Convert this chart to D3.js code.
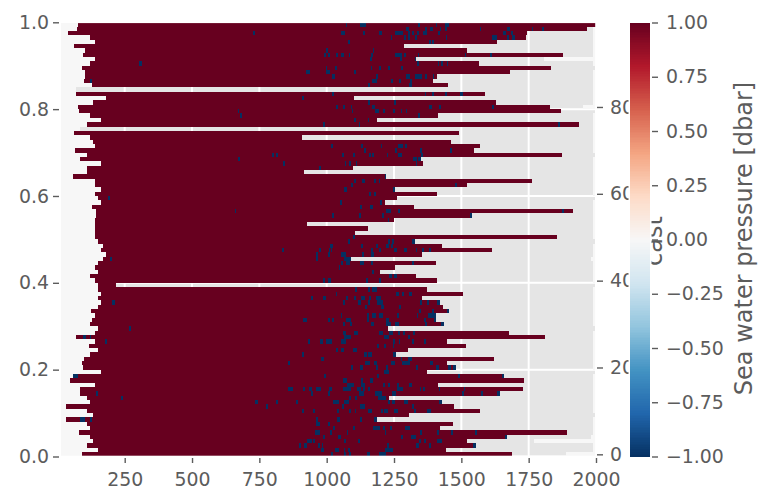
<!DOCTYPE html>
<html><head><meta charset="utf-8">
<script src="https://cdn.jsdelivr.net/npm/d3@7"></script>
<style>html,body{margin:0;padding:0;background:#fff}svg{display:block}text{font-family:"DejaVu Sans",sans-serif}</style>
</head><body><svg id="c" width="772" height="504"></svg>
<script>
// casts listed from the top row (99) down to the bottom row (0)
const casts = d3.range(99, -1, -1);
const dataStart = [77,73,40,121,140,62,103,95,140,121,92,103,103,99,129,69,69,181,132,77,80,121,162,110,84,62,121,132,140,65,110,84,162,110,110,58,140,140,162,140,151,162,129,143,143,140,140,140,140,140,151,170,162,181,170,151,140,151,121,140,151,151,162,151,162,151,125,140,129,121,151,140,69,140,117,151,121,99,92,95,162,58,47,140,84,84,110,121,32,110,132,32,110,121,80,121,132,110,151,92];
const dataEnd = [2000,1967,1744,1740,1633,1287,1521,1878,1332,1566,1833,1681,1410,1395,1451,69,1588,1101,1629,1829,1870,1413,1187,1937,84,1491,908,1462,1569,1547,1874,1350,1358,1098,916,1220,1762,1521,1254,1410,1261,1217,1324,1915,1540,1250,927,1154,1105,1855,1328,1428,1614,1354,1090,1406,1254,1198,1332,1410,218,1373,1506,1354,1421,1432,1454,1406,1402,1436,1228,1677,1811,1447,1517,1302,1257,1621,1447,1480,1373,1658,1733,1413,1729,1644,1231,1428,1473,1569,1306,1187,1469,1421,1892,1670,1521,1555,1443,1688];
const noTrailCasts = [99,89,79,69,59,49,39,29,19,9];
const trailCasts = [91,80,45,4,3,0];
const trailStarts = [1807,1952,1981,1981,1770,1889];
const trailDefault = 1989;
// cells with value -1: [cast, from dbar, to dbar]
const blueCells = [
[97,728,734],[90,304,313],[93,997,1005],[92,990,997],[92,1005,1012],[89,997,1002],[88,923,938],[88,997,1012],[86,121,129],[82,908,916],[79,671,675],[78,678,684],[76,988,995],[69,797,805],[69,812,820],[68,671,678],[67,839,847],[66,973,979],
[99,1072,1076],[99,1124,1146],[99,1339,1345],[99,1406,1410],[99,1439,1454],
[98,1295,1306],[98,1365,1373],[98,1384,1395],[98,1421,1425],[98,1439,1447],[98,1569,1573],[98,1670,1681],[98,1762,1766],[98,1800,1807],
[97,1053,1068],[97,1135,1142],[97,1194,1205],[97,1254,1283],[97,1302,1309],[97,1317,1324],[97,1335,1343],[97,1358,1373],[97,1413,1421],[97,1655,1666],[97,1684,1692],
[96,1239,1243],[96,1287,1295],[96,1302,1309],[96,1328,1335],[96,1443,1447],[96,1614,1633],[96,1670,1677],[96,1688,1699],
[95,1079,1087],[95,1380,1387],[95,1391,1398],[93,1172,1176],
[92,1035,1042],[92,1053,1064],[92,1083,1087],[92,1165,1172],[92,1254,1280],[92,1287,1295],[92,1339,1344],[92,1514,1517],[92,1606,1614],
[91,1161,1168],[91,1272,1280],[91,1328,1332],
[90,1335,1343],[90,1413,1417],[90,1424,1432],[90,1447,1451],
[89,1031,1038],[89,1165,1168],[89,1194,1202],[89,1228,1235],[89,1276,1283],[88,1101,1109],
[87,1020,1031],[87,1183,1191],[87,1295,1309],[87,1328,1354],[87,1365,1373],[87,1395,1398],
[86,1168,1187],[86,1239,1246],[86,1268,1276],[86,1309,1317],[85,1153,1161],[85,1306,1317],
[83,1020,1027],[83,1365,1369],[83,1391,1398],[83,1439,1447],[83,1495,1506],[81,1153,1161],[81,1250,1257],
[80,1035,1042],[80,1061,1068],[80,1090,1094],[80,1168,1179],[80,1380,1391],[80,1417,1424],[80,1614,1621],
[79,1094,1098],[79,1179,1194],[79,1209,1217],[79,1246,1254],[79,1276,1280],[79,1295,1298],[78,1339,1347],[77,1101,1109],[77,1153,1158],[76,1120,1124],[76,1859,1866],
[71,1016,1024],[71,1127,1135],[71,1202,1205],[71,1265,1283],[71,1291,1298],
[70,1139,1146],[70,1254,1261],[70,1347,1354],[70,1458,1465],
[69,1057,1064],[69,1098,1105],[69,1157,1165],[69,1168,1176],[69,1224,1228],[69,1265,1280],[69,1350,1358],
[68,1321,1335],[68,1339,1350],[67,1068,1072],[67,1083,1090],[67,1109,1113],[67,1332,1335],
[59,188,195],[56,659,663],[47,834,841],[47,971,979],[47,1009,1012],[46,960,968],[46,1005,1012],[45,195,203],[45,960,968],[40,988,995],[40,1005,1012],[35,203,214],[36,943,950],[36,988,997],[31,912,927],[31,1005,1012],
[64,1216,1220],[63,1101,1109],[63,1131,1142],[63,1176,1183],[63,1194,1198],[62,1090,1098],[62,1476,1484],[61,1064,1075],[61,1246,1254],[60,1157,1165],[60,1176,1183],[58,1050,1057],[58,1198,1205],[57,1124,1131],[57,1161,1172],
[56,1220,1239],[56,1265,1272],[56,1874,1881],[55,1020,1027],[55,1120,1127],[55,1205,1213],[55,1532,1540],[54,1228,1232],[50,1098,1105],
[49,1079,1087],[49,1228,1235],[49,1243,1250],[49,1317,1328],
[48,1012,1024],[48,1127,1135],[48,1183,1191],[48,1220,1232],[48,1239,1246],
[47,1016,1020],[47,1165,1172],[47,1194,1202],[47,1250,1261],[47,1287,1298],[47,1332,1335],[47,1354,1361],[47,1380,1387],
[46,1053,1072],[46,1131,1139],[46,1165,1176],[45,1064,1090],
[44,1053,1061],[44,1072,1087],[44,1124,1139],[44,1165,1172],[44,1317,1324],[43,1046,1050],[42,1168,1176],[41,1232,1243],[41,1250,1261],[40,1012,1016],[40,1146,1153],[40,1194,1202],
[38,1105,1113],[38,1153,1161],[38,1168,1187],[37,1035,1038],[37,1257,1268],[37,1280,1287],[37,1306,1317],
[36,1072,1079],[36,1101,1109],[36,1127,1142],[36,1157,1165],[36,1183,1202],
[35,1061,1068],[35,1116,1127],[35,1153,1161],[35,1187,1209],[35,1347,1354],[35,1373,1380],[35,1410,1421],
[34,1142,1150],[34,1202,1213],[34,1268,1276],[33,1343,1350],[33,1391,1398],[33,1447,1454],
[32,1053,1057],[32,1150,1157],[32,1168,1183],[32,1194,1209],[32,1261,1268],[32,1335,1339],[32,1376,1406],
[31,1020,1027],[31,1072,1090],[31,1150,1157],[31,1220,1232],[31,1361,1369],[31,1398,1406],
[30,1061,1068],[30,1087,1094],[30,1165,1176],[30,1220,1239],[30,1254,1268],[30,1365,1373],[30,1424,1436],
[29,267,275],[27,95,106],[27,121,125],[26,177,184],[26,931,938],[26,975,986],[26,997,1012],[23,908,916],[22,979,990],[21,856,864],[18,58,77],[18,990,997],
[15,856,875],[15,912,920],[15,935,946],[15,960,979],[15,1009,1012],[14,143,151],[14,942,950],[14,1005,1012],[13,236,244],[12,734,745],[12,812,820],[12,886,893],[11,775,782],[10,908,916],[10,949,957],
[8,84,103],[8,121,129],[8,960,968],[7,960,975],[7,1005,1012],[5,957,975],[4,986,994],[3,927,946],[3,949,957],[2,897,905],[2,916,927],[2,968,975],[2,983,986],[1,979,990],
[28,1061,1072],[28,1101,1116],[28,1194,1209],[28,1231,1246],[28,1265,1272],[28,1283,1291],[28,1320,1328],
[27,1064,1090],[27,1213,1231],[27,1302,1309],[26,1012,1020],[26,1053,1072],[26,1246,1254],[26,1268,1272],[26,1317,1324],[26,1361,1369],
[25,1187,1194],[25,1213,1220],[25,1246,1250],[24,1035,1042],[24,1053,1064],[24,1098,1113],[23,1139,1150],[23,1153,1168],[23,1246,1257],[22,1276,1280],[22,1302,1317],
[21,1142,1161],[21,1176,1187],[21,1239,1254],[21,1280,1309],[21,1384,1395],
[20,1090,1098],[20,1124,1135],[20,1183,1191],[20,1220,1228],[20,1332,1339],[20,1406,1417],[20,1450,1461],[20,1469,1480],
[19,1213,1231],[18,1187,1194],[18,1488,1495],[18,1651,1658],[17,1061,1075],[17,1127,1135],[17,1161,1172],
[16,1075,1101],[16,1127,1142],[16,1209,1217],[16,1228,1235],[16,1261,1268],[16,1306,1317],
[15,1012,1020],[15,1061,1090],[15,1112,1127],[15,1135,1142],[15,1153,1161],[15,1261,1283],[15,1346,1350],[15,1358,1365],[15,1417,1421],[15,1510,1514],
[14,1120,1139],[14,1179,1205],[14,1243,1257],[14,1502,1510],[14,1573,1580],[14,1633,1644],
[13,1083,1090],[13,1105,1113],[13,1190,1220],
[12,1023,1046],[12,1064,1083],[12,1228,1235],[12,1243,1254],[12,1287,1302],[12,1417,1428],
[11,1057,1064],[11,1124,1142],[11,1317,1324],
[10,1038,1046],[10,1083,1090],[10,1105,1109],[10,1153,1168],[10,1202,1209],[10,1213,1228],[10,1250,1265],[10,1324,1332],[10,1373,1387],
[8,1038,1050],[8,1124,1131],[8,1176,1187],
[6,1024,1031],[6,1098,1105],[6,1172,1198],[6,1209,1217],[6,1235,1243],[6,1291,1309],
[5,1012,1020],[5,1075,1079],[5,1216,1220],[5,1346,1354],[5,1410,1417],[5,1461,1469],[5,1551,1558],
[4,1042,1053],[4,1276,1283],[4,1313,1332],[4,1662,1670],
[3,1064,1072],[3,1116,1124],[3,1343,1350],[3,1361,1369],[3,1410,1428],
[2,1224,1231],[2,1332,1343],[2,1380,1387],[2,1543,1555],
[1,1031,1046],[1,1064,1068],[1,1079,1087],[1,1216,1246],
[0,1016,1024],[0,1064,1072],[0,1083,1090],[0,1150,1161],[0,1194,1220]
];
const xTicks = [250,500,750,1000,1250,1500,1750,2000];
const yTicks = [0,0.2,0.4,0.6,0.8,1.0];
const castTicks = [0,20,40,60,80];
const cbarTicks = [-1,-0.75,-0.5,-0.25,0,0.25,0.5,0.75,1];
const rdbuStops = ["#053061","#2166ac","#4393c3","#92c5de","#d1e5f0","#f7f7f7","#fddbc7","#f4a582","#d6604d","#b2182b","#67001f"];

const INK = "#5c5c5c", FS = 18.9, LABEL_FS = 24;
const L = 60.2, R = 596, T = 22.3, B = 456.5;
const svg = d3.select("#c");
const x = d3.scaleLinear().domain([10.5, 2000]).range([L, R]);
const y = d3.scaleLinear().domain([0, 1]).range([B, T]);
const yCast = d3.scaleLinear().domain([-0.5, 99.5]).range([B, T]);
const cy = d3.scaleLinear().domain([-1, 1]).range([456.5, 22.5]);
const color = d3.scaleLinear().domain(d3.range(11).map(i => -1 + i * 0.2)).range(rdbuStops);

// panel and grid
svg.append("rect").attr("x", L).attr("y", T).attr("width", R - L).attr("height", B - T).attr("fill", "#e5e5e5");
const grid = svg.append("g").attr("stroke", "#fff").attr("stroke-width", 2);
grid.selectAll(".gx").data(xTicks).join("line").attr("x1", x).attr("x2", x).attr("y1", T).attr("y2", B);
grid.selectAll(".gy").data(yTicks).join("line").attr("y1", y).attr("y2", y).attr("x1", L).attr("x2", R);

// mesh
const rows = casts.map((c, i) => ({
  c, s: dataStart[i], e: dataEnd[i],
  t: trailCasts.includes(c) ? trailStarts[trailCasts.indexOf(c)] : (noTrailCasts.includes(c) ? null : trailDefault)
}));
const segs = [];
rows.forEach(r => {
  segs.push({c: r.c, a: x.domain()[0], b: r.s, v: 0});
  if (r.e > r.s) segs.push({c: r.c, a: r.s, b: r.e, v: 1});
  if (r.t !== null) segs.push({c: r.c, a: r.t, b: 2000, v: 0});
});
blueCells.forEach(d => segs.push({c: d[0], a: d[1], b: d[2], v: -1}));
svg.append("g").attr("shape-rendering", "crispEdges").selectAll("rect").data(segs).join("rect")
  .attr("x", d => x(d.a)).attr("width", d => x(d.b) - x(d.a))
  .attr("y", d => yCast(d.c + 0.5)).attr("height", d => yCast(d.c - 0.5) - yCast(d.c + 0.5))
  .attr("fill", d => color(d.v));

// white spines
svg.append("rect").attr("x", L).attr("y", T).attr("width", R - L).attr("height", B - T)
  .attr("fill", "none").attr("stroke", "#fff").attr("stroke-width", 1.6);

function style(g) {
  g.select(".domain").remove();
  g.selectAll("line").attr("stroke", INK).attr("stroke-width", 1.4);
  g.selectAll("text").attr("fill", INK).style("font-size", FS + "px").style("font-family", '"DejaVu Sans"');
}
svg.append("g").attr("transform", `translate(0,${458})`)
  .call(d3.axisBottom(x).tickValues(xTicks).tickFormat(d3.format("d")).tickSize(5).tickPadding(9.6)).call(style);
svg.append("g").attr("transform", `translate(59,0)`)
  .call(d3.axisLeft(y).tickValues(yTicks).tickFormat(d3.format(".1f")).tickSize(6).tickPadding(4)).call(style);
svg.append("g").attr("transform", `translate(597,0)`)
  .call(d3.axisRight(yCast).tickValues(castTicks).tickFormat(d3.format("d")).tickSize(6).tickPadding(7)).call(style);

svg.append("text").attr("transform", "translate(662,241) rotate(-90)").attr("text-anchor", "middle")
  .attr("fill", INK).style("font-size", LABEL_FS + "px").text("cast");

// colorbar
const levels = d3.range(256).map(i => -1 + i * 2 / 256);
svg.append("rect").attr("x", 630).attr("y", 23).attr("width", 20).attr("height", 433)
  .attr("fill", "#fff").attr("stroke", "#fff").attr("stroke-width", 3);
svg.append("g").attr("shape-rendering", "crispEdges").selectAll("rect").data(levels).join("rect")
  .attr("x", 630).attr("width", 20)
  .attr("y", d => cy(d + 2 / 256)).attr("height", d => cy(d) - cy(d + 2 / 256) + 0.6)
  .attr("fill", d => color(d + 1 / 256));
svg.append("g").attr("transform", `translate(652,0)`)
  .call(d3.axisRight(cy).tickValues(cbarTicks).tickFormat(d3.format(".2f")).tickSize(6).tickPadding(8)).call(style);
svg.append("text").attr("transform", "translate(751.5,238.5) rotate(-90)").attr("text-anchor", "middle")
  .attr("fill", INK).style("font-size", LABEL_FS + "px").text("Sea water pressure [dbar]");
</script></body></html>
